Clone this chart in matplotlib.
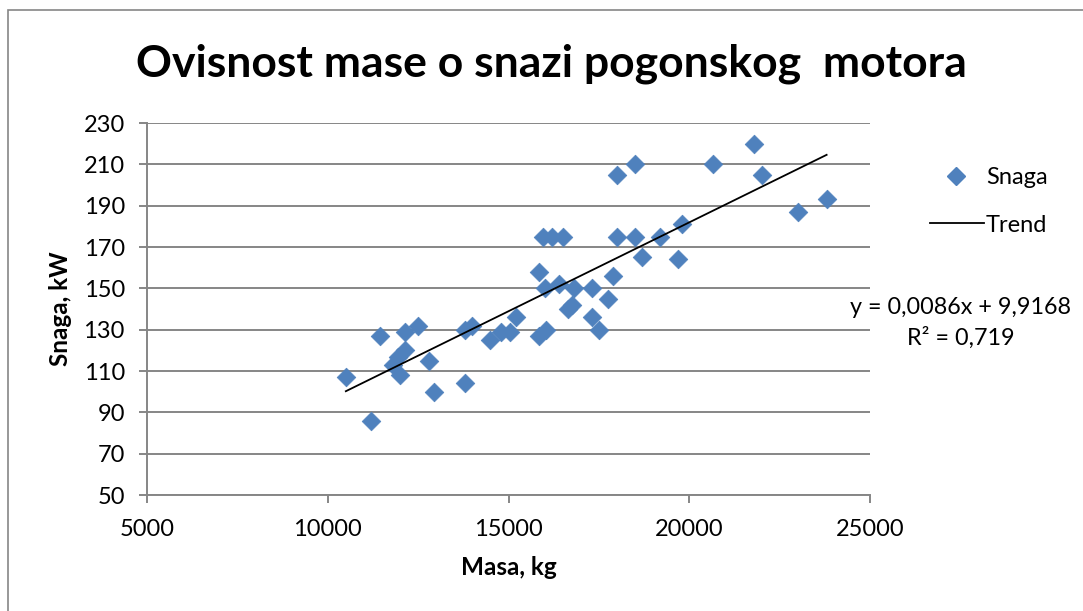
import matplotlib
matplotlib.use("Agg")
import matplotlib.pyplot as plt
from matplotlib.lines import Line2D
from matplotlib.patches import Rectangle
import numpy as np

plt.rcParams['font.family'] = ['Lato', 'DejaVu Sans']

masa = [10500, 11200, 11450, 11800, 11950, 12000, 12150, 12150, 12500, 12800,
        12950, 13800, 13800, 14000, 14500, 14800, 15050, 15200, 15850, 15850,
        15950, 16000, 16050, 16200, 16400, 16500, 16650, 16750, 16800, 17300,
        17300, 17500, 17750, 17900, 18000, 18000, 18500, 18500, 18700, 19200,
        19700, 19800, 20650, 21800, 22000, 23000, 23800]
snaga = [107, 86, 127, 113, 117, 108, 120, 129, 132, 115,
         100, 104, 130, 132, 125, 129, 129, 136, 127, 158,
         175, 150, 130, 175, 152, 175, 140, 142, 150, 150,
         136, 130, 145, 156, 175, 205, 175, 210, 165, 175,
         164, 181, 210, 220, 205, 187, 193]

trend_slope = 0.0086
trend_intercept = 9.9168
r2 = 0.719

title = "Ovisnost mase o snazi pogonskog  motora"
xlabel = "Masa, kg"
ylabel = "Snaga, kW"
xticks = [5000, 10000, 15000, 20000, 25000]
yticks = [50, 70, 90, 110, 130, 150, 170, 190, 210, 230]
series_names = ["Snaga", "Trend"]

W, H = 1083, 611
fig = plt.figure(figsize=(W / 100, H / 100), dpi=100)
fig.patch.set_facecolor('white')

# outer chart border
fig.patches.append(Rectangle((8 / W, -0.1), 1.2, 1 - 10 / H + 0.1,
                             transform=fig.transFigure, fill=False,
                             edgecolor='#868686', linewidth=1.2))

ax = fig.add_axes([147 / W, 1 - 495 / H, (870 - 147) / W, (495 - 123) / H])
gray = '#868686'
blue = '#4F81BD'

ax.scatter(masa, snaga, marker='D', s=9.5 ** 2, color=blue, edgecolors=blue,
           linewidths=0.5, zorder=3, label=series_names[0])
xs = np.array([min(masa), max(masa)])
ax.plot(xs, trend_slope * xs + trend_intercept, color='black', lw=1.3,
        zorder=4, label=series_names[1])

ax.set_xlim(5000, 25000)
ax.set_ylim(50, 230)
ax.set_xticks(xticks)
ax.set_yticks(yticks)
ax.set_xticklabels([str(v) for v in xticks])
ax.set_yticklabels([str(v) for v in yticks])
ax.yaxis.grid(True, color=gray, lw=1.4)
ax.set_axisbelow(True)
for s in ['top', 'right']:
    ax.spines[s].set_visible(False)
for s in ['left', 'bottom']:
    ax.spines[s].set_color(gray)
    ax.spines[s].set_linewidth(1.4)
ax.tick_params(axis='both', colors=gray, length=6, width=1.4, direction='out',
               labelcolor='black', labelsize=17)
ax.tick_params(axis='y', pad=10)
ax.tick_params(axis='x', pad=11)

ax.set_xlabel(xlabel, fontsize=17.5, fontweight='bold', labelpad=12)
ax.set_ylabel(ylabel, fontsize=17.5, fontweight='bold', labelpad=8)

fig.text(551 / W, 1 - 64 / H, title, fontsize=32, fontweight='bold',
         ha='center', va='center')

# legend (drawn in figure pixel positions)
fig.add_artist(Line2D([956 / W], [1 - 176 / H], marker='D', ls='none',
                      color=blue, markersize=9.5, transform=fig.transFigure))
fig.text(986 / W, 1 - 176 / H, series_names[0], fontsize=17, ha='left',
         va='center_baseline')
fig.add_artist(Line2D([930 / W, 984 / W], [1 - 223 / H, 1 - 223 / H],
                      color='black', lw=1.3, transform=fig.transFigure))
fig.text(986 / W, 1 - 223 / H, series_names[1], fontsize=17, ha='left',
         va='center_baseline')

fig.text(961 / W, 1 - 307 / H, "y = 0,0086x + 9,9168", fontsize=16.8,
         ha='center', va='center')
fig.text(961 / W, 1 - 338 / H, f"R² = {str(r2).replace('.', ',')}",
         fontsize=16.8, ha='center', va='center')

fig.savefig('out.png', dpi=100)
